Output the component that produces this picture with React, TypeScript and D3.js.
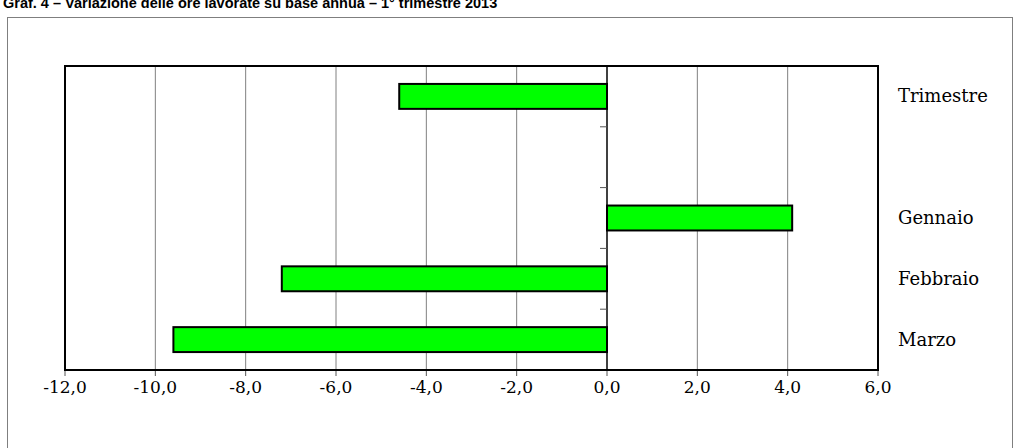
import * as d3 from "d3";

const TITLE = "Graf. 4 – Variazione delle ore lavorate su base annua – 1° trimestre 2013";

// categories top to bottom (second slot is an empty row in the original)
const categories = ["Trimestre", "", "Gennaio", "Febbraio", "Marzo"];
const values: (number | null)[] = [-4.6, null, 4.1, -7.2, -9.6];
const xTicks = [-12, -10, -8, -6, -4, -2, 0, 2, 4, 6];

const WIDTH = 1021;
const HEIGHT = 448;
const PLOT = { left: 65, top: 66, right: 878, bottom: 370 };
const SERIF = "'DejaVu Serif', serif";

function fmt(v: number): string {
  return v.toFixed(1).replace(".", ",");
}

export default function App() {
  const x = d3.scaleLinear().domain([-12, 6]).range([PLOT.left, PLOT.right]);
  const y = d3
    .scaleBand<number>()
    .domain(categories.map((_, i) => i))
    .range([PLOT.top, PLOT.bottom])
    .paddingInner(0.59)
    .paddingOuter(0.295);
  const band = d3
    .scaleBand<number>()
    .domain(categories.map((_, i) => i))
    .range([PLOT.top, PLOT.bottom]);

  const x0 = x(0);

  return (
    <svg
      width={WIDTH}
      height={HEIGHT}
      style={{ position: "absolute", left: 0, top: 0, background: "#fff" }}
    >
      <text x={3} y={8} fontFamily="'Liberation Sans', Arial, sans-serif" fontWeight="bold" fontSize={14.5}>
        {TITLE}
      </text>
      {/* outer frame */}
      <rect x={7.5} y={17.5} width={1005} height={450} fill="none" stroke="#7f7f7f" strokeWidth={1} />

      {/* gridlines */}
      {xTicks
        .filter((t) => t !== 0 && t !== -12 && t !== 6)
        .map((t) => (
          <line key={t} x1={x(t)} x2={x(t)} y1={PLOT.top} y2={PLOT.bottom} stroke="#808080" strokeWidth={1} />
        ))}

      {/* bottom ticks */}
      {xTicks.map((t) => (
        <line key={"bt" + t} x1={x(t)} x2={x(t)} y1={PLOT.bottom} y2={PLOT.bottom + 6} stroke="#555" strokeWidth={1} />
      ))}

      {/* bars */}
      {values.map((v, i) =>
        v == null ? null : (
          <rect
            key={i}
            x={Math.min(x(v), x0)}
            y={y(i)}
            width={Math.abs(x(v) - x0)}
            height={y.bandwidth()}
            fill="#00ff00"
            stroke="#000"
            strokeWidth={2}
          />
        )
      )}

      {/* zero axis with category ticks */}
      <line x1={x0} x2={x0} y1={PLOT.top} y2={PLOT.bottom} stroke="#000" strokeWidth={1.5} />
      {categories.slice(1).map((_, i) => {
        const yy = band(i + 1) ?? 0;
        return <line key={"yt" + i} x1={x0 - 7} x2={x0} y1={yy} y2={yy} stroke="#555" strokeWidth={1} />;
      })}

      {/* plot frame */}
      <rect
        x={PLOT.left}
        y={PLOT.top}
        width={PLOT.right - PLOT.left}
        height={PLOT.bottom - PLOT.top}
        fill="none"
        stroke="#000"
        strokeWidth={2}
      />

      {/* x tick labels */}
      {xTicks.map((t) => (
        <text key={"xl" + t} x={x(t)} y={PLOT.bottom + 23} textAnchor="middle" fontFamily={SERIF} fontSize={17} fill="#000">
          {fmt(t)}
        </text>
      ))}

      {/* category labels at right */}
      {categories.map((c, i) =>
        c ? (
          <text
            key={"cl" + i}
            x={PLOT.right + 20}
            y={(band(i) ?? 0) + band.bandwidth() / 2 + 6}
            fontFamily={SERIF}
            fontSize={18}
            fill="#000"
          >
            {c}
          </text>
        ) : null
      )}
    </svg>
  );
}
